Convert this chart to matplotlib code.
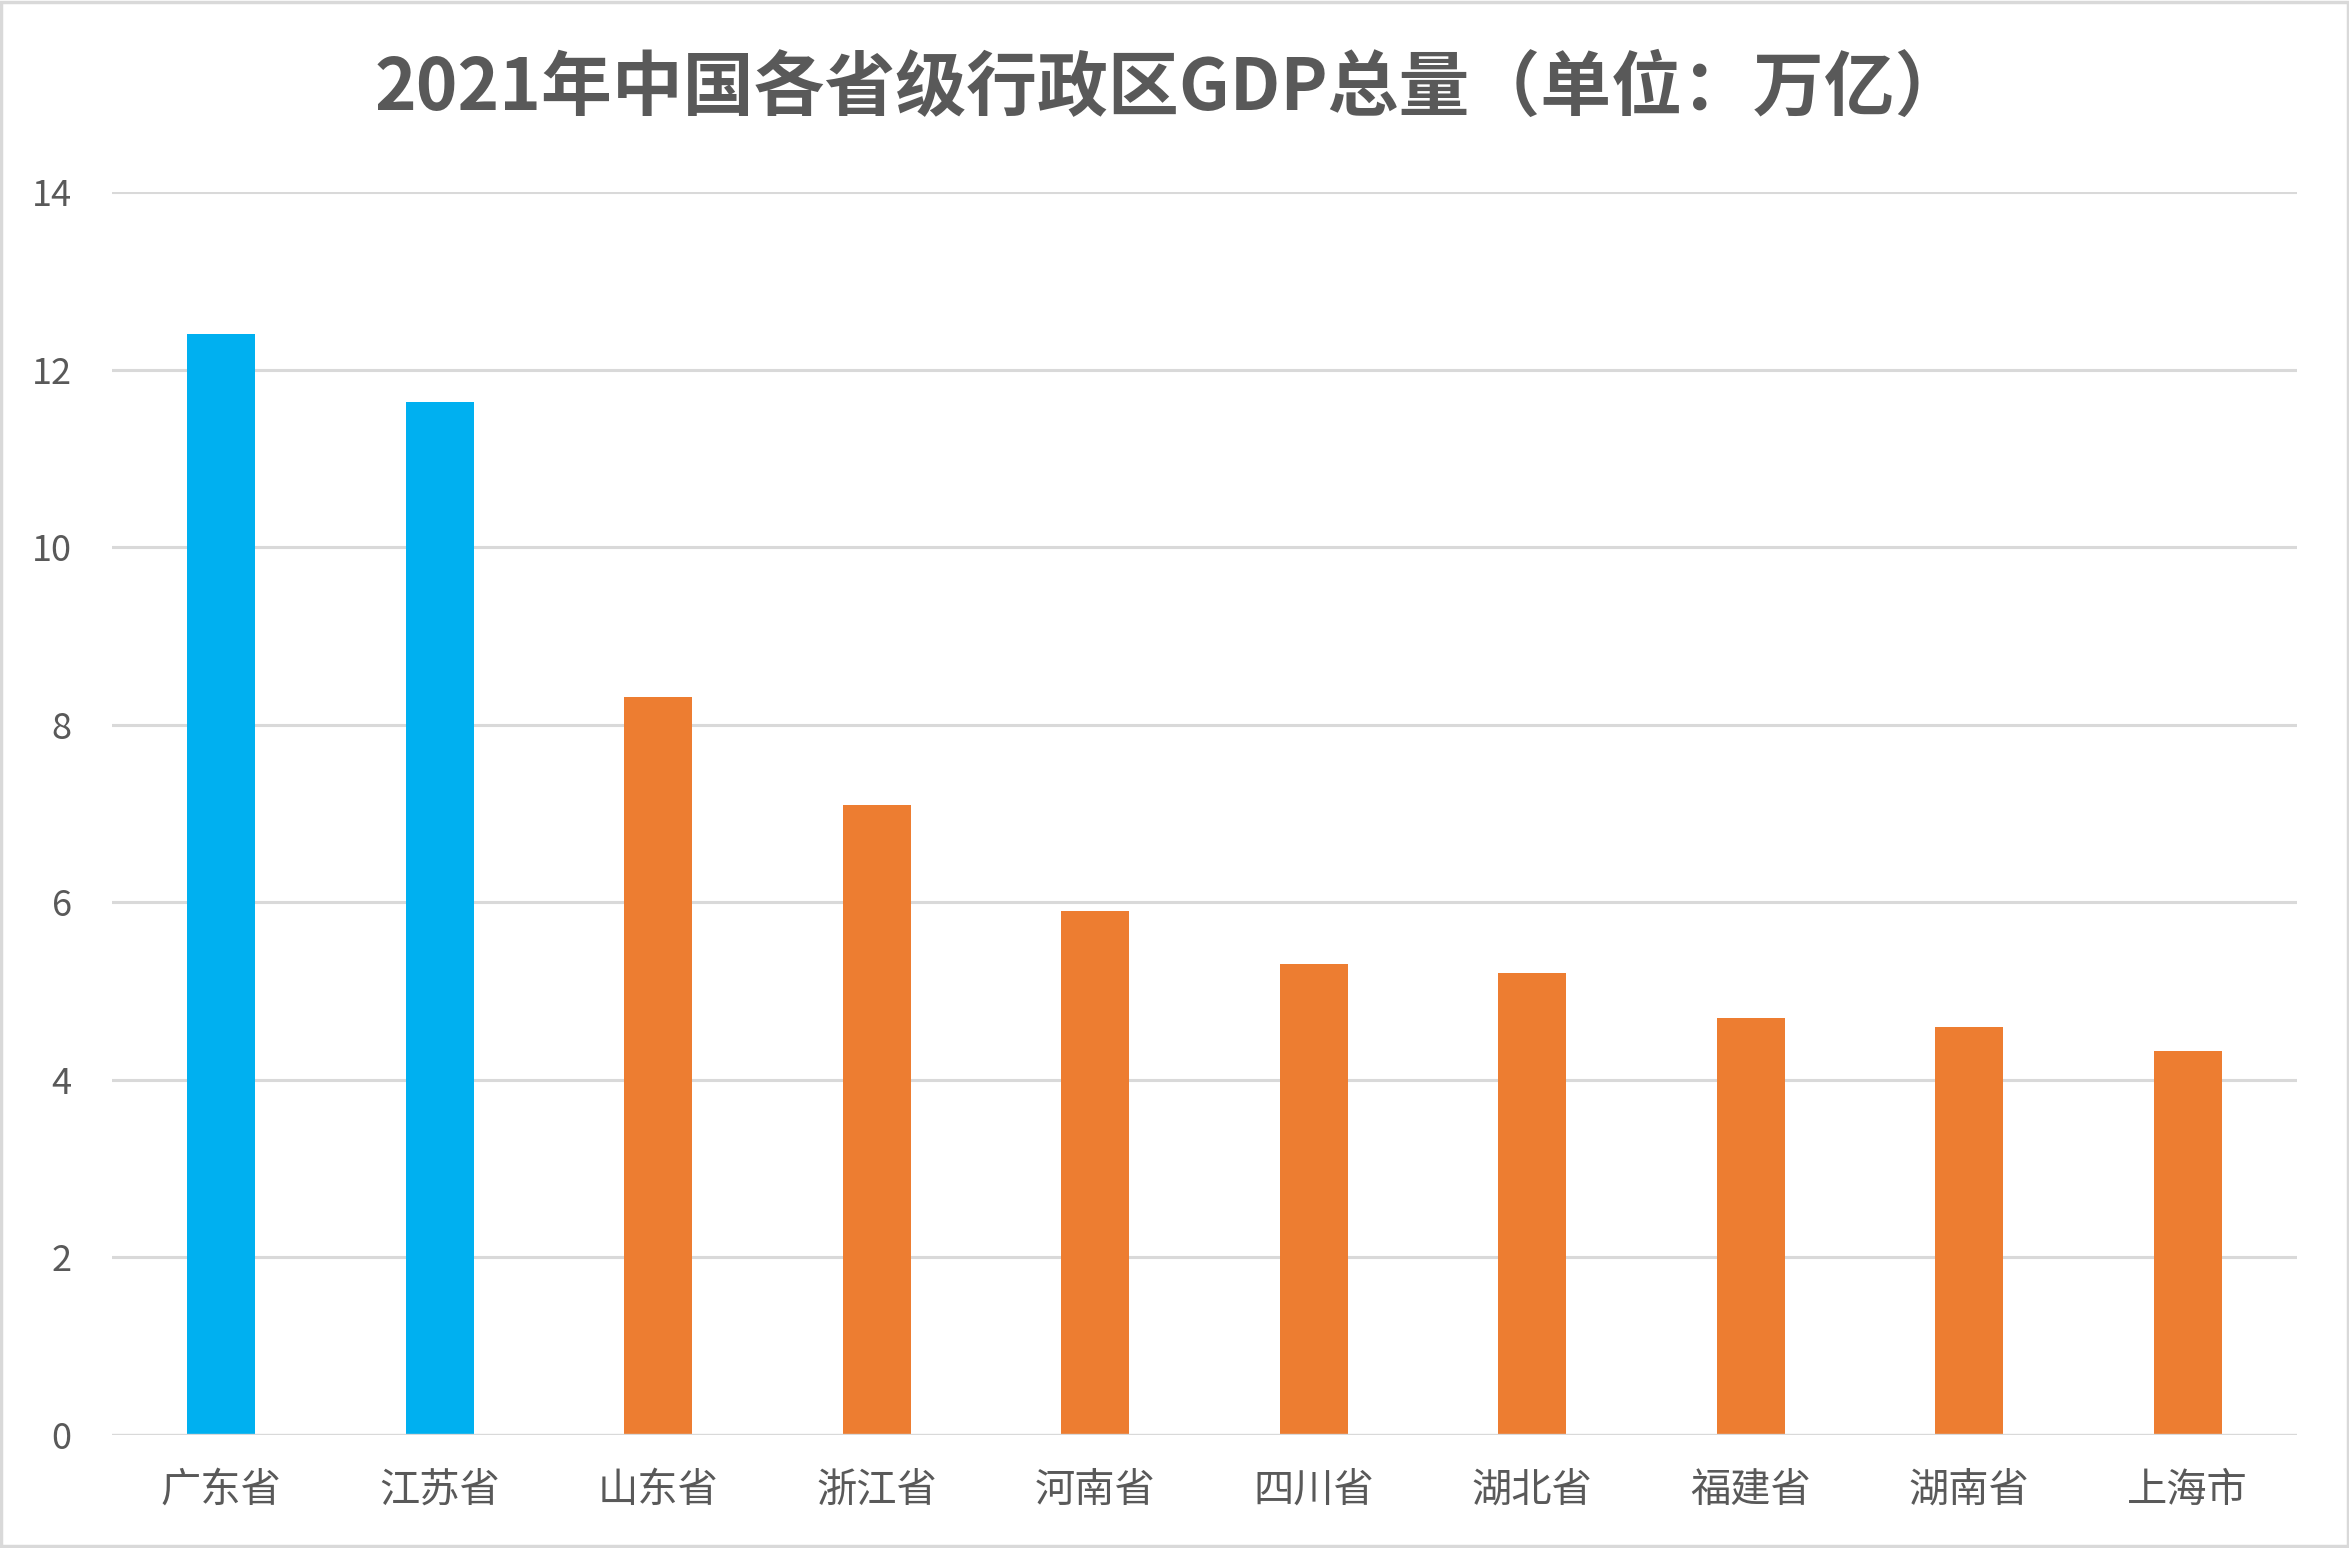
import matplotlib.pyplot as plt
from matplotlib.patches import Rectangle

plt.rcParams['font.family'] = ['Noto Sans CJK SC', 'DejaVu Sans']

# 2021 GDP by province (trillion yuan)
provinces = ["广东省", "江苏省", "山东省", "浙江省", "河南省",
             "四川省", "湖北省", "福建省", "湖南省", "上海市"]
gdp = [12.4, 11.64, 8.31, 7.1, 5.9, 5.3, 5.2, 4.7, 4.6, 4.32]
bar_colors = ["#00B0F0", "#00B0F0"] + ["#ED7D31"] * 8
yticks = [0, 2, 4, 6, 8, 10, 12, 14]

W, H = 2349, 1548
fig = plt.figure(figsize=(W / 100, H / 100), dpi=100)
ax = fig.add_axes([112 / W, 1 - 1435 / H, (2297 - 112) / W, (1435 - 192) / H])

x = range(len(provinces))
ax.bar(x, gdp, width=0.31, color=bar_colors, zorder=3)

ax.set_xlim(-0.5, len(provinces) - 0.5)
ax.set_ylim(0, 14)
ax.set_yticks(yticks)
ax.set_yticklabels([str(t) for t in yticks])
ax.set_xticks(list(x))
ax.set_xticklabels(provinces)

grid_col = "#D9D9D9"
for t in yticks[1:]:
    ax.axhline(t, color=grid_col, lw=2.2, zorder=1)
ax.axhline(0, color=grid_col, lw=2.4, zorder=4)

for s in ax.spines.values():
    s.set_visible(False)
ax.tick_params(axis='both', length=0, colors="#595959")
ax.tick_params(axis='y', labelsize=26, pad=29)
ax.tick_params(axis='x', labelsize=29, pad=25)

fig.text(1170 / W, 1 - 89 / H, "2021年中国各省级行政区GDP总量（单位：万亿）",
         ha='center', va='center', fontsize=51, fontweight='bold', color="#595959")

# light outer frame
fig.patches.append(Rectangle((0.0006, 0.001), 0.9988, 0.998, transform=fig.transFigure,
                             fill=False, edgecolor=grid_col, lw=2.5))

fig.savefig("out.png", dpi=100, facecolor="white")
